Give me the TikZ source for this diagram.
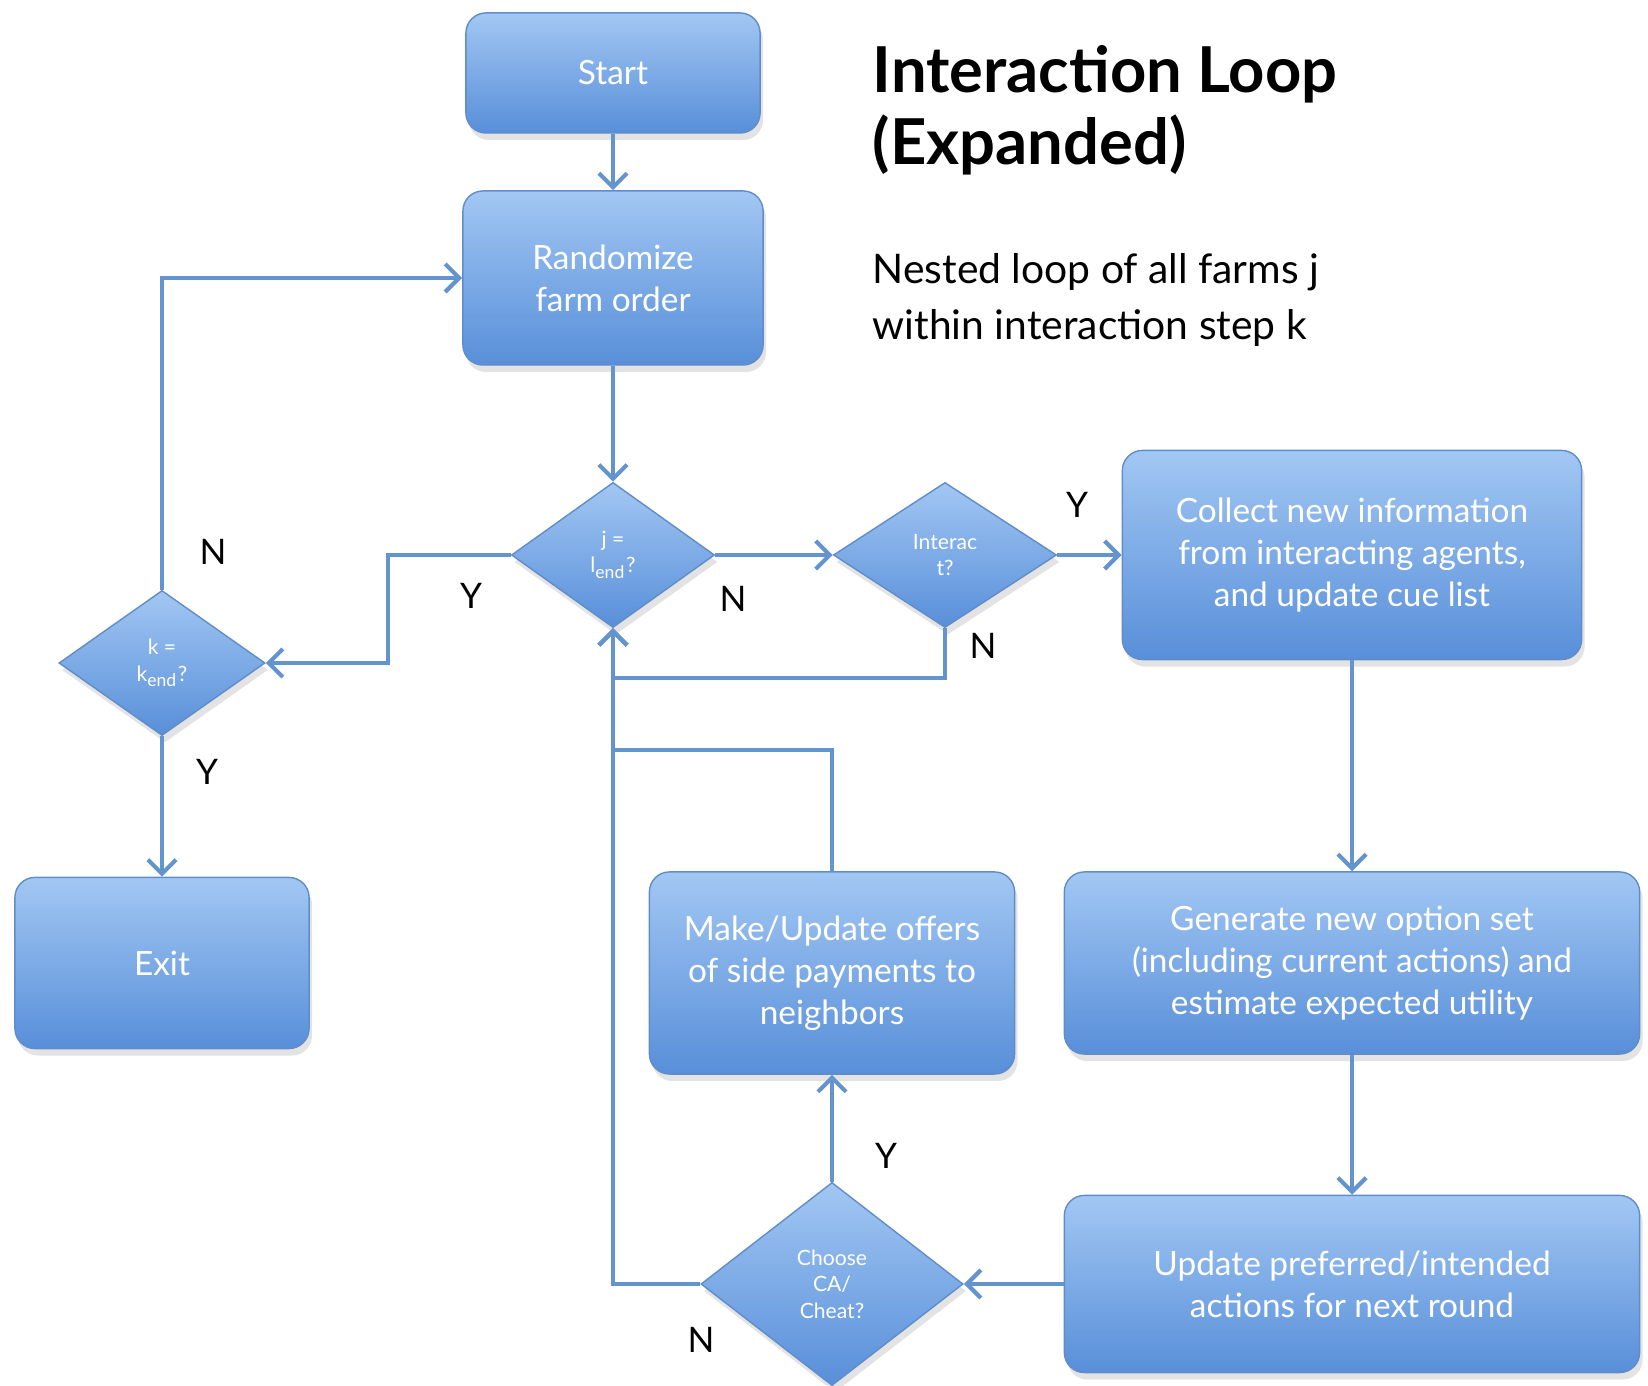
\documentclass[tikz,border=0pt]{standalone}
\usepackage{fontspec}
\setmainfont{Lato}
\usetikzlibrary{shapes.geometric,shadows,arrows.meta}

\definecolor{flowline}{RGB}{100,148,205}
\definecolor{boxtop}{RGB}{162,199,243}
\definecolor{boxbot}{RGB}{88,143,217}
\definecolor{boxedge}{RGB}{96,141,202}

\tikzset{
  flowbox/.style={rectangle, rounded corners=0.2cm, top color=boxtop, bottom color=boxbot,
    draw=boxedge, thin, text=white, align=center, inner sep=2pt,
    font=\fontsize{9.5}{12}\selectfont,
    drop shadow={opacity=0.22, shadow xshift=0.03cm, shadow yshift=-0.07cm}},
  decision/.style={diamond, inner sep=0pt, top color=boxtop, bottom color=boxbot,
    draw=boxedge, thin, text=white, align=center,
    font=\fontsize{6}{7.5}\selectfont,
    drop shadow={opacity=0.22, shadow xshift=0.03cm, shadow yshift=-0.07cm}},
  flow/.style={draw=flowline, line width=1.2pt, -{Straight Barb[length=4pt,width=8pt]}},
  joinline/.style={draw=flowline, line width=1.2pt},
  yn/.style={font=\fontsize{10}{12}\selectfont, inner sep=0pt}
}

\begin{document}
\begin{tikzpicture}[x=0.01cm, y=-0.01cm]
  \useasboundingbox (0,0) rectangle (1648,1386);

  % Title text
  \node[anchor=west, align=left, inner sep=0pt, font=\bfseries\fontsize{18}{20.5}\selectfont] (title) at (872,110) {Interaction Loop\\(Expanded)};
  \node[anchor=west, align=left, inner sep=0pt, font=\fontsize{11.6}{16}\selectfont] (subtitle) at (872,300) {Nested loop of all farms j\\within interaction step k};

  % Boxes
  \node[flowbox, minimum width=2.94cm, minimum height=1.2cm] (start) at (613,73) {Start};
  \node[flowbox, minimum width=3cm, minimum height=1.74cm] (rand) at (613,278) {Randomize\\farm order};
  \node[flowbox, minimum width=4.59cm, minimum height=2.09cm] (collect) at (1352,555) {Collect new information\\from interacting agents,\\and update cue list};
  \node[flowbox, minimum width=2.94cm, minimum height=1.71cm] (exit) at (162,963) {Exit};
  \node[flowbox, minimum width=3.65cm, minimum height=2.02cm] (make) at (832,973) {Make/Update offers\\of side payments to\\neighbors};
  \node[flowbox, minimum width=5.75cm, minimum height=1.82cm] (gen) at (1352,963) {Generate new option set\\(including current actions) and\\estimate expected utility};
  \node[flowbox, minimum width=5.75cm, minimum height=1.77cm] (upd) at (1352,1284) {Update preferred/intended\\actions for next round};

  % Decisions
  \node[decision, minimum width=2.03cm, minimum height=1.45cm] (jend) at (613,555) {j =\\l\textsubscript{end}?};
  \node[decision, minimum width=2.23cm, minimum height=1.45cm] (inter) at (945,555) {Interac\\t?};
  \node[decision, minimum width=2.06cm, minimum height=1.45cm] (kend) at (162,663) {k =\\k\textsubscript{end}?};
  \node[decision, minimum width=2.62cm, minimum height=2.03cm] (choose) at (832,1284) {Choose\\CA/\\Cheat?};

  % Connectors
  \coordinate (join) at (613,750);
  \draw[flow] (start) -- (rand);
  \draw[flow] (rand) -- (jend);
  \draw[flow] (jend) -- (inter);
  \draw[flow] (inter) -- (collect);
  \draw[flow] (inter.south) -- ++(0,50) -| (jend.south);
  \draw[flow] (jend.west) -- ++(-123,0) |- (kend.east);
  \draw[flow] (kend.north) |- (rand.west);
  \draw[flow] (kend) -- (exit);
  \draw[flow] (collect) -- (gen);
  \draw[flow] (gen) -- (upd);
  \draw[flow] (upd) -- (choose);
  \draw[flow] (choose) -- (make);
  \draw[joinline] (make.north) |- (join);
  \draw[flow] (choose.west) -| (jend.south);

  % Labels
  \node[yn] (lblJN) at (733,599) {N};
  \node[yn] (lblJY) at (471,596) {Y};
  \node[yn] (lblIY) at (1077,505) {Y};
  \node[yn] (lblIN) at (983,646) {N};
  \node[yn] (lblKN) at (213,552) {N};
  \node[yn] (lblKY) at (207,772) {Y};
  \node[yn] (lblCY) at (886,1156) {Y};
  \node[yn] (lblCN) at (701,1340) {N};
\end{tikzpicture}
\end{document}
